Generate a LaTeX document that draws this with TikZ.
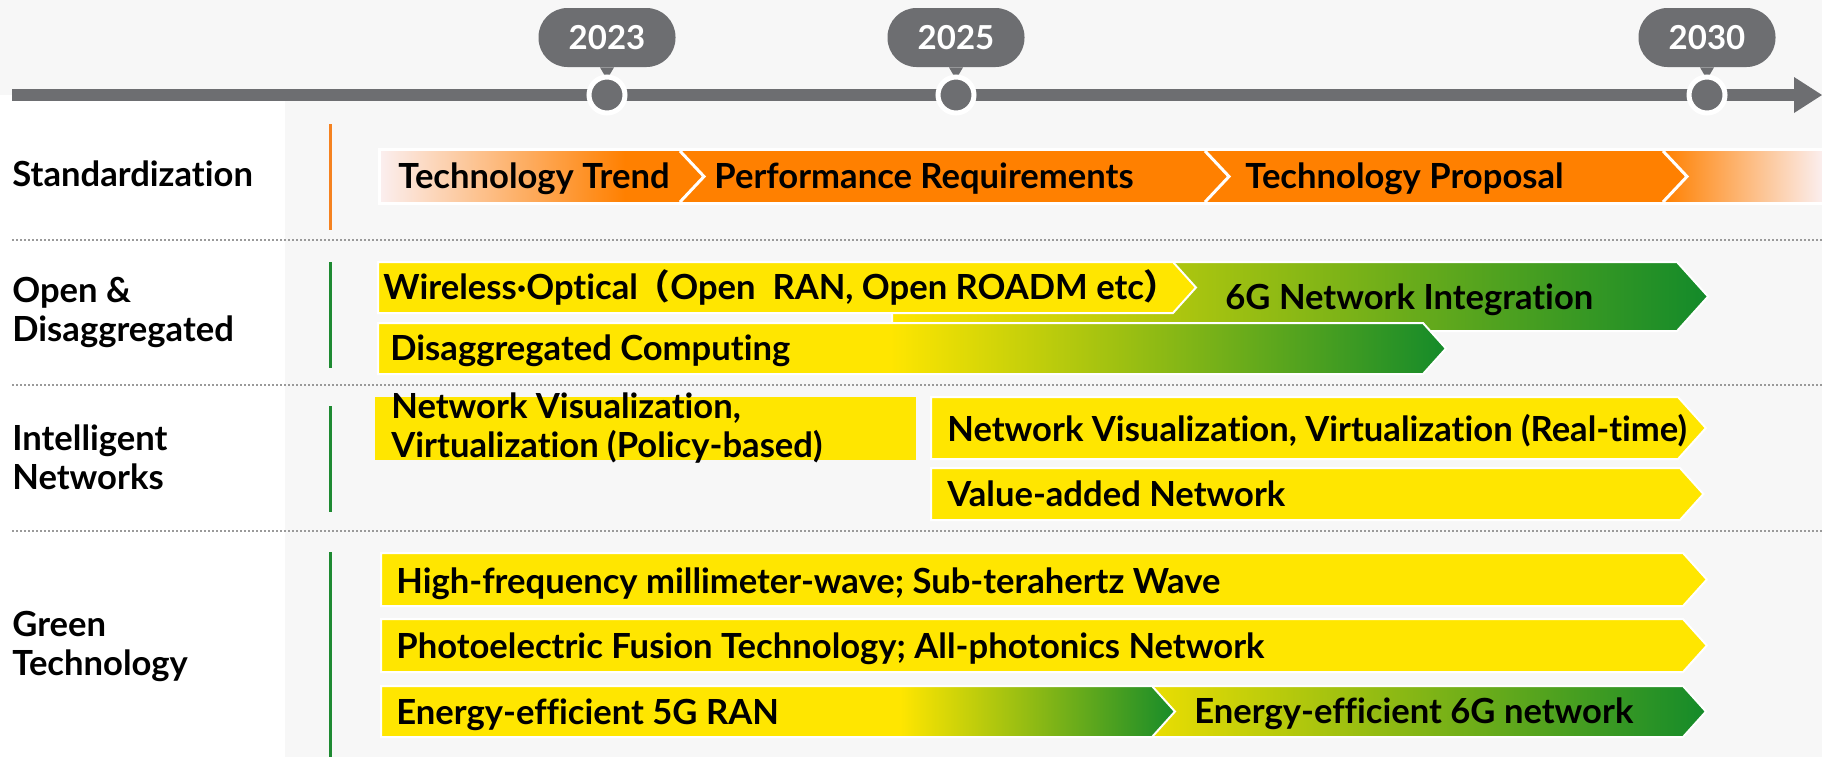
\documentclass[tikz,border=0pt]{standalone}
\usepackage{fontspec}
\setmainfont{Lato}[Ligatures=NoCommon]
\newfontfamily\cjkfont{Noto Sans CJK JP}
\usepackage{tikz}
\definecolor{bggray}{HTML}{F7F7F7}
\definecolor{linegray}{HTML}{6D6E71}
\definecolor{dotgray}{HTML}{9A9A9A}
\definecolor{orangebar}{HTML}{FF8000}
\definecolor{orangeline}{HTML}{F58220}
\definecolor{pinkfade}{HTML}{F2A8A0}
\definecolor{barwhite}{HTML}{FBEEEE}
\definecolor{yellowbar}{HTML}{FFE600}
\definecolor{olivebar}{HTML}{B8CA08}
\definecolor{greenbar}{HTML}{138A2A}
\definecolor{greenline}{HTML}{1E8A32}
\newcommand{\chevpath}[4]{(#1,#3) -- (#2,#3) -- ({#2+0.45*(#4-#3)},{(#3+#4)/2}) -- (#2,#4) -- (#1,#4) -- cycle}

\begin{document}
\begin{tikzpicture}[x=0.5pt,y=-0.5pt,
    every node/.style={inner sep=0pt},
    rowlabel/.style={anchor=west,align=left,font=\fontsize{17.3}{19.5}\selectfont\bfseries},
    bartext/.style={anchor=west,text height=12.2pt,text depth=0pt,font=\fontsize{17.3}{19.5}\selectfont\bfseries},
    yearbox/.style={fill=linegray,text=white,rounded corners=14.5pt,minimum width=68.5pt,
                    minimum height=29.5pt,font=\fontsize{16.5}{19}\selectfont\bfseries},
    yeardot/.style={circle,fill=linegray,draw=white,line width=2.5pt,minimum size=18pt},
    sepline/.style={dotgray,line width=1pt,dash pattern=on 1pt off 1pt},
    outline/.style={white,line width=1pt}]
  \useasboundingbox (0,0) rectangle (1822,757);
  \fill[bggray] (0,0) rectangle (1822,757);
  \fill[white] (0,95) rectangle (285,757);
  % time axis
  \fill[linegray] (12,89) rectangle (1796,101);
  \fill[linegray] (1794,77) -- (1822,95) -- (1794,113) -- cycle;
  \foreach \yr/\xx in {2023/607,2025/956,2030/1707}{
    \node[yearbox] (y\yr) at (\xx,37.5) {\yr};
    \fill[linegray] ([xshift=-3.5pt]y\yr.south) -- ([xshift=3.5pt]y\yr.south)
        -- ([yshift=-6pt]y\yr.south) -- cycle;
    \node[yeardot] (d\yr) at (\xx,95) {};
  }
  \draw[sepline] (12,240) -- (1822,240);
  \draw[sepline] (12,385) -- (1822,385);
  \draw[sepline] (12,531) -- (1822,531);
  % row labels
  \node[rowlabel] (lstd) at (12,174) {Standardization};
  \node[rowlabel] (lopen) at (12,312.5) {Open \&\\Disaggregated};
  \node[rowlabel] (lintel) at (12,457.5) {Intelligent\\Networks};
  \node[rowlabel] (lgreen) at (12,646.5) {Green\\Technology};
  \draw[orangeline,line width=1.5pt] (330,124) -- (330,230);
  \draw[greenline,line width=1.5pt] (330,262) -- (330,368);
  \draw[greenline,line width=1.5pt] (330,406) -- (330,512);
  \draw[greenline,line width=1.5pt] (330,552) -- (330,757);
  % standardization
  \fill[orangebar] (381,151) rectangle (1822,202);
  \shade[left color=barwhite,middle color=pinkfade,right color=orangebar] (381,151) rectangle (625,202);
  \shade[left color=orangebar,middle color=pinkfade!85!barwhite,right color=barwhite]
      (1663,151) -- (1688,176.5) -- (1663,202) -- (1822,202) -- (1822,151) -- cycle;
  \draw[white,line width=1.5pt] (379.5,149.5) rectangle (1826,203.5);
  \foreach \xx in {680,1205,1663}
    \draw[white,line width=1.5pt] (\xx,151) -- ({\xx+24},176.5) -- (\xx,202);
  \node[bartext] (trend) at (398,176) {Technology Trend};
  \node[bartext] (perf) at (714,176) {Performance Requirements};
  \node[bartext] (proposal) at (1245,176) {Technology Proposal};
  % open & disaggregated
  \begin{scope}
    \clip \chevpath{892}{1677}{262}{331};
    \shade[left color=yellowbar,middle color=olivebar,right color=greenbar] (892,262) rectangle (1708,331);
  \end{scope}
  \draw[outline] \chevpath{892}{1677}{262}{331};
  \fill[yellowbar] \chevpath{378}{1173}{262}{313};
  \draw[outline] \chevpath{378}{1173}{262}{313};
  \begin{scope}
    \clip \chevpath{378}{1423}{323}{374};
    \fill[yellowbar] (378,323) rectangle (1450,374);
    \shade[left color=yellowbar,middle color=olivebar,right color=greenbar] (890,323) rectangle (1450,374);
  \end{scope}
  \draw[outline] \chevpath{378}{1423}{323}{374};
  \node[bartext] (wireless) at (383,287.5)
      {Wireless·Optical{\cjkfont\bfseries \kern-1pt（}Open\ \ RAN, Open ROADM etc{\cjkfont\bfseries ）}};
  \node[bartext] (sixgint) at (1225,297) {6G Network Integration};
  \node[bartext] (discomp) at (390,348) {Disaggregated Computing};
  % intelligent networks
  \fill[yellowbar] (375,397) rectangle (916,460);
  \node[rowlabel] (nvpolicy) at (391,428.5) {Network Visualization,\\Virtualization (Policy-based)};
  \fill[yellowbar] \chevpath{931}{1678}{397}{459};
  \draw[outline] \chevpath{931}{1678}{397}{459};
  \node[bartext] (nvreal) at (947,429) {Network Visualization, Virtualization (Real-time)};
  \fill[yellowbar] \chevpath{931}{1680}{468}{520};
  \draw[outline] \chevpath{931}{1680}{468}{520};
  \node[bartext] (valadd) at (947,494) {Value-added Network};
  % green technology
  \fill[yellowbar] \chevpath{381}{1683}{553}{606};
  \draw[outline] \chevpath{381}{1683}{553}{606};
  \node[bartext] (mmwave) at (396,581) {High-frequency millimeter-wave; Sub-terahertz Wave};
  \fill[yellowbar] \chevpath{381}{1683}{619}{672};
  \draw[outline] \chevpath{381}{1683}{619}{672};
  \node[bartext] (photon) at (396,646) {Photoelectric Fusion Technology; All-photonics Network};
  \begin{scope}
    \clip \chevpath{1152}{1683}{686}{737};
    \shade[left color=yellowbar!70!olivebar,middle color=olivebar!70!greenbar,right color=greenbar] (1152,686) rectangle (1710,737);
  \end{scope}
  \draw[outline] \chevpath{1152}{1683}{686}{737};
  \begin{scope}
    \clip \chevpath{381}{1152}{686}{737};
    \fill[yellowbar] (381,686) rectangle (1180,737);
    \shade[left color=yellowbar,middle color=olivebar,right color=greenbar] (900,686) rectangle (1180,737);
  \end{scope}
  \draw[outline] \chevpath{381}{1152}{686}{737};
  \node[bartext] (eff5g) at (396,712) {Energy-efficient 5G RAN};
  \node[bartext] (eff6g) at (1194,711.5) {Energy-efficient 6G network};
\end{tikzpicture}
\end{document}
